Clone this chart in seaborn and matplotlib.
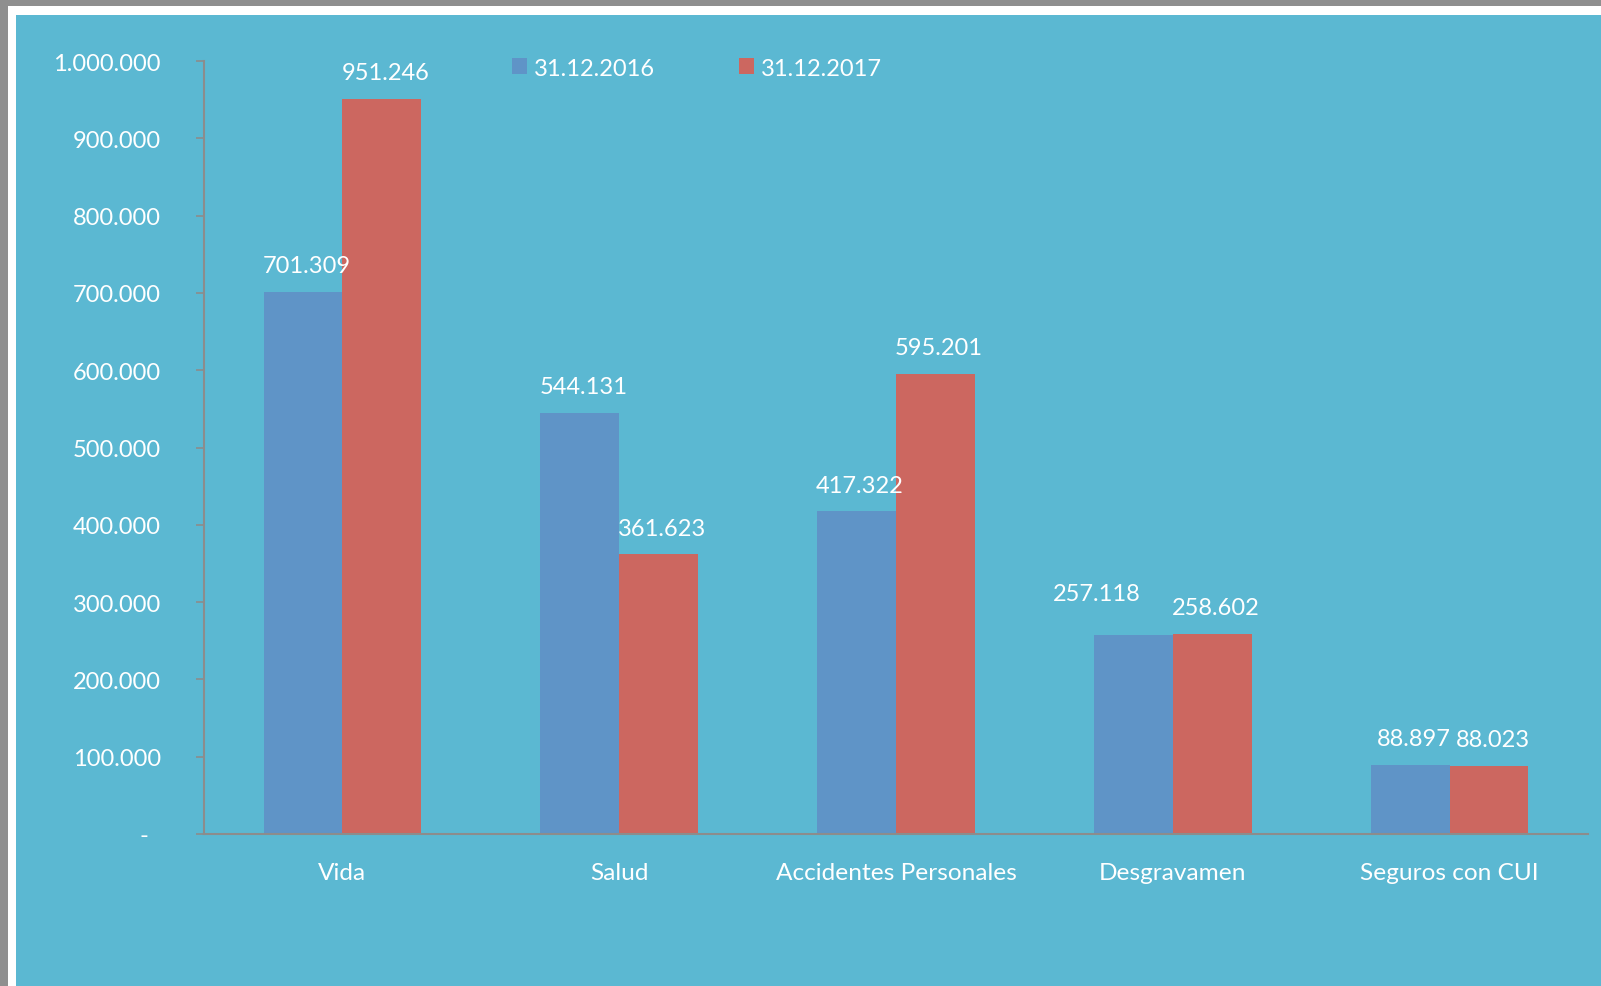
import matplotlib
matplotlib.use("Agg")
import matplotlib.pyplot as plt
from matplotlib.patches import Rectangle
import seaborn as sns
import pandas as pd

categories = ["Vida", "Salud", "Accidentes Personales", "Desgravamen", "Seguros con CUI"]
series_names = ["31.12.2016", "31.12.2017"]
values_2016 = [701309, 544131, 417322, 257118, 88897]
values_2017 = [951246, 361623, 595201, 258602, 88023]
y_ticks = [0, 100000, 200000, 300000, 400000, 500000, 600000, 700000, 800000, 900000, 1000000]

colors = ["#5f94c7", "#cc6760"]
bg = "#5bb8d2"
txt = "white"

sns.set_theme(style="white")
plt.rcParams["font.family"] = ["Lato", "DejaVu Sans"]

df = pd.DataFrame({
    "cat": categories * 2,
    "val": values_2016 + values_2017,
    "year": [series_names[0]] * 5 + [series_names[1]] * 5,
})

W, H = 1601, 987
fig = plt.figure(figsize=(W / 100, H / 100), dpi=100)
fig.patch.set_facecolor("#8f8f8f")
fig.add_artist(Rectangle((8 / W, 0), 1, (H - 7) / H, transform=fig.transFigure,
                         facecolor="white", edgecolor="none", zorder=-10))
fig.add_artist(Rectangle((16 / W, 0), 1, (H - 16) / H, transform=fig.transFigure,
                         facecolor=bg, edgecolor="none", zorder=-9))

ax = fig.add_axes([204 / W, 1 - 835 / H, (1588 - 204) / W, (835 - 62) / H])
ax.set_facecolor("none")

sns.barplot(data=df, x="cat", y="val", hue="year", order=categories,
            hue_order=series_names, palette=colors, width=0.57,
            saturation=1, linewidth=0, ax=ax)

ax.set_xlim(-0.5, 4.5)
ax.set_ylim(0, 1000000)
ax.set_xlabel("")
ax.set_ylabel("")

def fmt(v):
    return f"{v:,}".replace(",", ".")

ax.set_yticks(y_ticks)
ax.set_yticklabels(["-  "] + [fmt(v) for v in y_ticks[1:]])
ax.tick_params(axis="y", length=6, width=1.2, color="#8c8c8c", pad=25,
               labelsize=17, labelcolor=txt, left=True)
ax.tick_params(axis="x", length=0, pad=20, labelsize=17.6, labelcolor=txt)

for s in ["top", "right"]:
    ax.spines[s].set_visible(False)
for s in ["left", "bottom"]:
    ax.spines[s].set_color("#8c8c8c")
    ax.spines[s].set_linewidth(1.5)

# label offsets (points); one label nudged to avoid overlap, as in the original
for si, cont in enumerate(ax.containers):
    for ci, bar in enumerate(cont):
        h = bar.get_height()
        off = (2.5, 19)
        if si == 0 and categories[ci] == "Desgravamen":
            off = (-26, 30)
        ax.annotate(fmt(int(round(h))), (bar.get_x() + bar.get_width() / 2, h),
                    xytext=off, textcoords="offset points",
                    ha="center", va="center", color=txt, fontsize=17)

handles, labels = ax.get_legend_handles_labels()
leg = ax.legend(handles, labels, loc="center left",
                bbox_to_anchor=((512 - 204) / (1588 - 204), (835 - 69) / (835 - 62)),
                ncol=2, frameon=False, fontsize=17, labelcolor=txt,
                handlelength=0.64, handleheight=0.64, handletextpad=0.3,
                columnspacing=3.55, borderpad=0, borderaxespad=0)

fig.savefig("out.png", dpi=100, facecolor=fig.get_facecolor())
